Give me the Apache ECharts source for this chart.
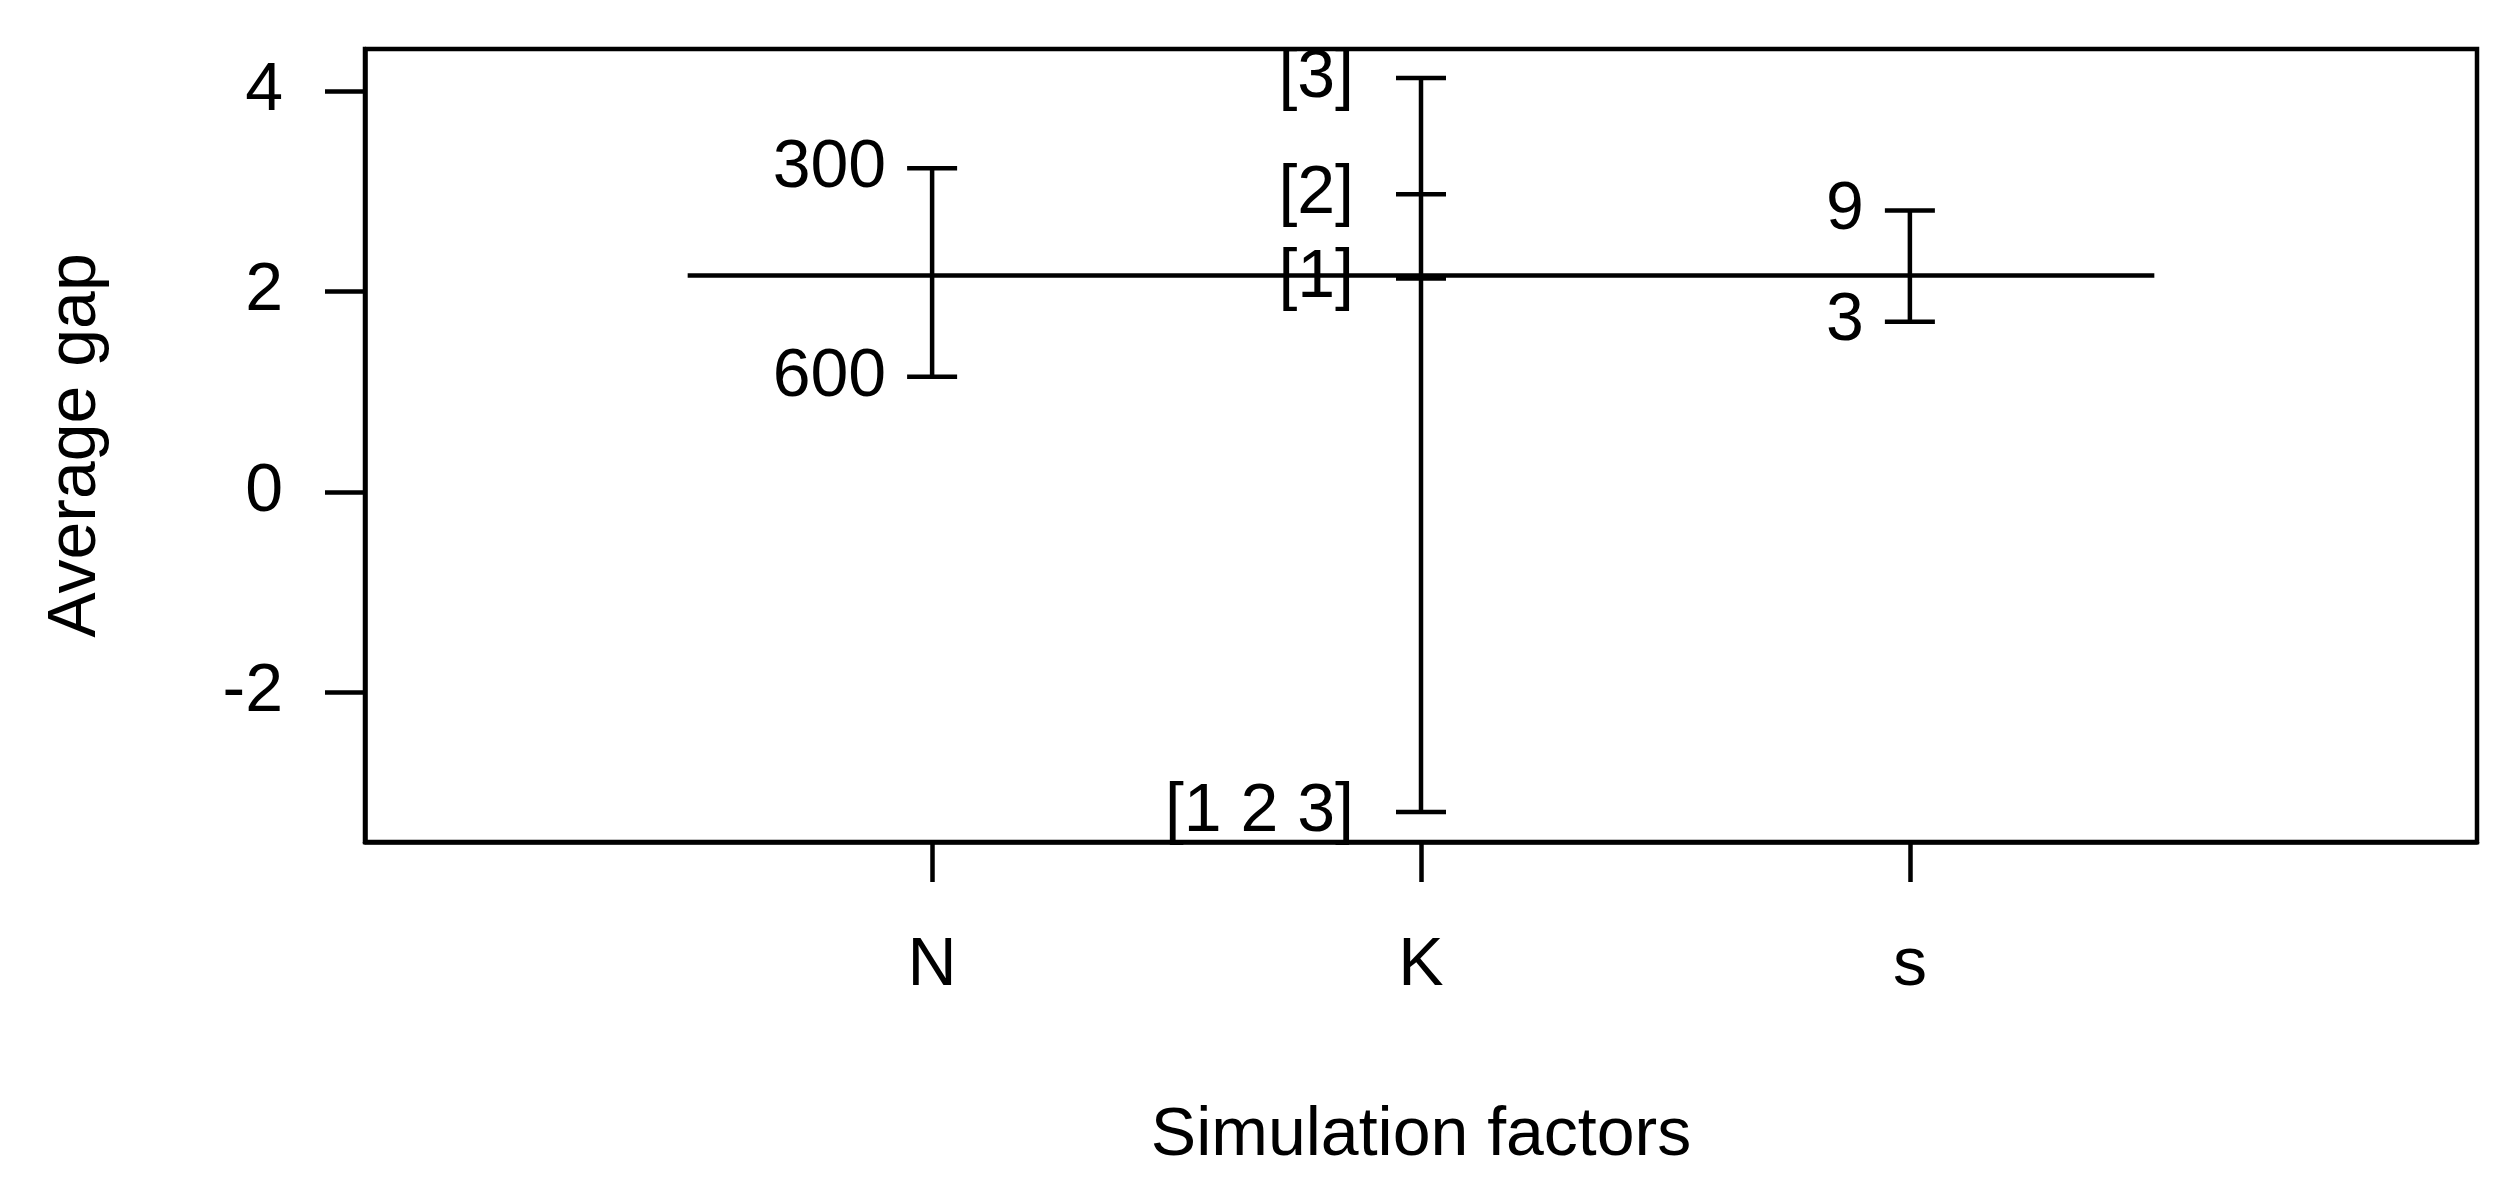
<!DOCTYPE html>
<html>
<head>
<meta charset="utf-8">
<title>Average gap by simulation factor</title>
<script src="https://cdn.jsdelivr.net/npm/echarts@6/dist/echarts.min.js"></script>
<style>
  html, body { margin: 0; padding: 0; background: #fff; }
  #chart { width: 2517px; height: 1197px; }
</style>
</head>
<body>
<div id="chart"></div>
<script>
  // factors on the x axis, in order
  const factorNames = ['N', 'K', 's'];
  // level means per factor
  const nLevels = ['300', '600'];
  const nMeans = [3.23, 1.15];
  const kLevels = ['[3]', '[2]', '[1]', '[1 2 3]'];
  const kMeans = [4.13, 2.97, 2.13, -3.19];
  const sLevels = ['9', '3'];
  const sMeans = [2.81, 1.70];
  const grandMean = 2.16;
  const yTicks = [-2, 0, 2, 4];

  const font = "'Liberation Sans', Arial, sans-serif";
  const lw = 4.5;

  // one vertical bar per factor, with a cap and a label at each level mean
  function factorSeries(idx, levels, means, labelGap) {
    return {
      type: 'line',
      data: levels.map((name, i) => ({ name: name, value: [idx + 1, means[i]] })),
      symbol: 'rect',
      symbolSize: [50, lw],
      lineStyle: { color: '#000', width: lw },
      itemStyle: { color: '#000', borderWidth: 0 },
      label: {
        show: true,
        position: 'left',
        distance: labelGap,
        formatter: '{b}',
        color: '#000',
        fontFamily: font,
        fontSize: 68
      },
      emphasis: { disabled: true }
    };
  }

  let chart = echarts.init(document.getElementById('chart'));
  chart.setOption({
    animation: false,
    backgroundColor: '#fff',
    grid: {
      left: 365,
      right: 40,
      top: 49,
      bottom: 355,
      show: true,
      borderColor: '#000',
      borderWidth: lw
    },
    xAxis: {
      type: 'value',
      min: -0.16,
      max: 4.16,
      name: 'Simulation factors',
      nameLocation: 'middle',
      nameGap: 260,
      nameTextStyle: { color: '#000', fontFamily: font, fontSize: 68 },
      axisLine: { show: true, onZero: false, lineStyle: { color: '#000', width: lw } },
      splitLine: { show: false },
      axisTick: {
        show: true,
        customValues: [1, 2, 3],
        length: 40,
        lineStyle: { color: '#000', width: lw }
      },
      axisLabel: {
        customValues: [1, 2, 3],
        formatter: v => factorNames[Math.round(v) - 1],
        margin: 90,
        color: '#000',
        fontFamily: font,
        fontSize: 68
      }
    },
    yAxis: {
      type: 'value',
      min: -3.49,
      max: 4.42,
      name: 'Average gap',
      nameLocation: 'middle',
      nameGap: 255,
      nameTextStyle: { color: '#000', fontFamily: font, fontSize: 68 },
      axisLine: { show: true, onZero: false, lineStyle: { color: '#000', width: lw } },
      splitLine: { show: false },
      axisTick: {
        show: true,
        customValues: yTicks,
        length: 40,
        lineStyle: { color: '#000', width: lw }
      },
      axisLabel: {
        customValues: yTicks,
        margin: 82,
        color: '#000',
        fontFamily: font,
        fontSize: 68
      }
    },
    series: [
      {
        type: 'line',
        data: [[0.5, grandMean], [3.5, grandMean]],
        symbol: 'none',
        lineStyle: { color: '#000', width: lw },
        emphasis: { disabled: true }
      },
      factorSeries(0, nLevels, nMeans, 21),
      factorSeries(1, kLevels, kMeans, 42),
      factorSeries(2, sLevels, sMeans, 21)
    ]
  });
</script>
</body>
</html>
